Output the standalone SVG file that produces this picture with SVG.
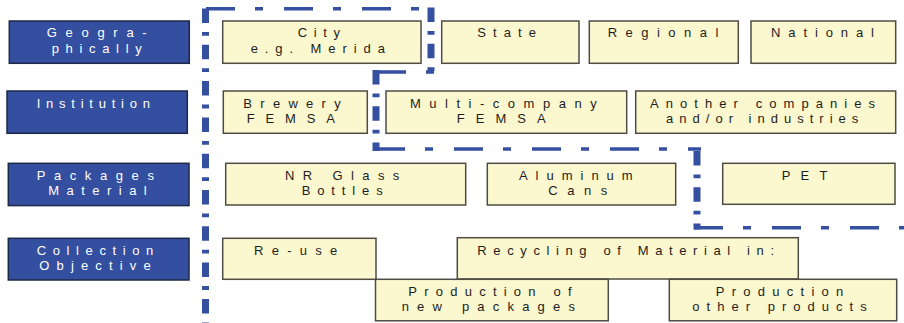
<svg xmlns="http://www.w3.org/2000/svg" width="904" height="323" viewBox="0 0 904 323">
  <style>
    .cat { fill: #344ea0; stroke: #1e2848; stroke-width: 1.5; }
    .opt { fill: #fbf7ce; stroke: #4e4c44; stroke-width: 1.5; }
    text { font-family: "Liberation Sans", Arial, sans-serif; font-size: 13px; text-anchor: middle; }
    .cat-t { fill: #ffffff; }
    .opt-t { fill: #1e1e1e; }
    .bound { fill: none; stroke: #3550a0; stroke-linecap: butt; }
    .bound .v { stroke-width: 7; stroke-dasharray: 14.5 9 3.8 9; }
    .bound .h { stroke-width: 3.4; stroke-dasharray: 29 20 8 21; }
  </style>

  <!-- category column -->
  <g id="geographically">
    <rect class="cat" x="9.3" y="21" width="180" height="42.3"/>
    <text class="cat-t" x="96.7" y="37.3" textLength="100" lengthAdjust="spacing">Geogra-</text>
    <text class="cat-t" x="96.7" y="53" textLength="90" lengthAdjust="spacing">phically</text>
  </g>
  <g id="institution">
    <rect class="cat" x="7" y="91" width="180.3" height="42.3"/>
    <text class="cat-t" x="93.3" y="108" textLength="113.3" lengthAdjust="spacing">Institution</text>
  </g>
  <g id="packages-material">
    <rect class="cat" x="8.3" y="163.3" width="180.7" height="42.3"/>
    <text class="cat-t" x="95.3" y="180" textLength="117.3" lengthAdjust="spacing">Packages</text>
    <text class="cat-t" x="97.5" y="195.3" textLength="98.4" lengthAdjust="spacing">Material</text>
  </g>
  <g id="collection-objective">
    <rect class="cat" x="8.3" y="238.3" width="180.7" height="41.7"/>
    <text class="cat-t" x="95" y="255" textLength="116.6" lengthAdjust="spacing">Collection</text>
    <text class="cat-t" x="95" y="270" textLength="111.4" lengthAdjust="spacing">Objective</text>
  </g>

  <!-- geographic scope -->
  <g id="city">
    <rect class="opt" x="222.7" y="21" width="198.3" height="42.3"/>
    <text class="opt-t" x="318.8" y="37.3" textLength="42.3" lengthAdjust="spacing">City</text>
    <text class="opt-t" x="317.8" y="53" textLength="134.3" lengthAdjust="spacing">e.g. Merida</text>
  </g>
  <g id="state">
    <rect class="opt" x="441.7" y="21" width="137.3" height="42.3"/>
    <text class="opt-t" x="506.7" y="37.3" textLength="58.7" lengthAdjust="spacing">State</text>
  </g>
  <g id="regional">
    <rect class="opt" x="589.3" y="21" width="149" height="42.3"/>
    <text class="opt-t" x="663" y="37.3" textLength="110.6" lengthAdjust="spacing">Regional</text>
  </g>
  <g id="national">
    <rect class="opt" x="751" y="21" width="144.7" height="42.3"/>
    <text class="opt-t" x="822.5" y="37.3" textLength="103" lengthAdjust="spacing">National</text>
  </g>

  <!-- institutions -->
  <g id="brewery">
    <rect class="opt" x="223.3" y="91" width="144" height="42.3"/>
    <text class="opt-t" x="292" y="108" textLength="97.4" lengthAdjust="spacing">Brewery</text>
    <text class="opt-t" x="290.8" y="123" textLength="88.3" lengthAdjust="spacing">FEMSA</text>
  </g>
  <g id="multi-company">
    <rect class="opt" x="386" y="91" width="240.7" height="42.3"/>
    <text class="opt-t" x="503.3" y="108" textLength="186.7" lengthAdjust="spacing">Multi-company</text>
    <text class="opt-t" x="501.2" y="123" textLength="89" lengthAdjust="spacing">FEMSA</text>
  </g>
  <g id="other-companies">
    <rect class="opt" x="635.7" y="91" width="260" height="42.3"/>
    <text class="opt-t" x="762.5" y="108" textLength="225" lengthAdjust="spacing">Another companies</text>
    <text class="opt-t" x="762.2" y="123" textLength="192.3" lengthAdjust="spacing">and/or industries</text>
  </g>

  <!-- package materials -->
  <g id="nr-glass">
    <rect class="opt" x="225.7" y="163.3" width="240" height="41.7"/>
    <text class="opt-t" x="342.2" y="180" textLength="114.3" lengthAdjust="spacing">NR Glass</text>
    <text class="opt-t" x="342.2" y="195.3" textLength="81" lengthAdjust="spacing">Bottles</text>
  </g>
  <g id="aluminum">
    <rect class="opt" x="487.3" y="163.3" width="188.4" height="41.7"/>
    <text class="opt-t" x="575.8" y="180" textLength="113.7" lengthAdjust="spacing">Aluminum</text>
    <text class="opt-t" x="577.8" y="195.3" textLength="59" lengthAdjust="spacing">Cans</text>
  </g>
  <g id="pet">
    <rect class="opt" x="722.7" y="163.3" width="172.3" height="41"/>
    <text class="opt-t" x="804.6" y="180" textLength="45.8" lengthAdjust="spacing">PET</text>
  </g>

  <!-- collection objectives -->
  <g id="re-use">
    <rect class="opt" x="222.7" y="238.3" width="153.3" height="41"/>
    <text class="opt-t" x="295.7" y="255" textLength="83.3" lengthAdjust="spacing">Re-use</text>
  </g>
  <g id="recycling">
    <rect class="opt" x="457.3" y="237.7" width="341" height="41.3"/>
    <text class="opt-t" x="625.7" y="255" textLength="296.7" lengthAdjust="spacing">Recycling of Material in:</text>
  </g>
  <g id="new-packages">
    <rect class="opt" x="375.5" y="279.3" width="232.8" height="41.5"/>
    <text class="opt-t" x="490" y="295.5" textLength="163.4" lengthAdjust="spacing">Production of</text>
    <text class="opt-t" x="488.3" y="311" textLength="173.3" lengthAdjust="spacing">new packages</text>
  </g>
  <g id="other-products">
    <rect class="opt" x="669.3" y="279.3" width="227.4" height="41.5"/>
    <text class="opt-t" x="779.5" y="295.5" textLength="127.6" lengthAdjust="spacing">Production</text>
    <text class="opt-t" x="779.5" y="311" textLength="174.4" lengthAdjust="spacing">other products</text>
  </g>

  <!-- dash-dot boundary of the current scope -->
  <g id="connectors" class="bound">
    <line class="v" x1="205.5" y1="8.5" x2="205.5" y2="323"/>
    <line class="h" x1="202" y1="8.7" x2="435" y2="8.7" stroke-dashoffset="-4"/>
    <line class="v" x1="431" y1="7.5" x2="431" y2="73.7"/>
    <line class="h" x1="377" y1="72" x2="435" y2="72"/>
    <line class="v" x1="376" y1="70" x2="376" y2="151"/>
    <line class="h" x1="376" y1="149" x2="701" y2="149"/>
    <line class="v" x1="697" y1="151" x2="697" y2="229.4"/>
    <line class="h" x1="694" y1="227.7" x2="904" y2="227.7"/>
  </g>
</svg>
